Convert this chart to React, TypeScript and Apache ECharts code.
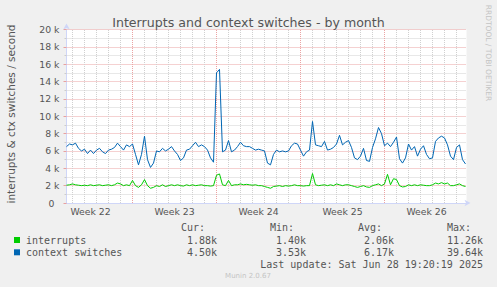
import React, { useEffect, useRef } from "react";
import * as echarts from "echarts";

// x unit = 2 hours (one pixel of the original munin graph); one sample every 6 hours
const SAMPLE_STEP = 3;
const X_MAX = 400;

const interrupts = [
  2.05, 2.1, 2.2, 2.1, 2.05, 2.0, 2.05, 2.0, 2.1, 2.0,
  2.05, 2.1, 2.0, 2.05, 2.1, 2.0, 2.1, 2.3, 2.2, 2.0,
  2.1, 2.0, 2.6, 2.0, 1.8, 2.1, 2.7, 2.0, 1.7, 1.8,
  2.0, 1.9, 2.1, 1.9, 2.0, 2.1, 2.0, 2.1, 2.0, 1.95,
  2.1, 2.0, 2.1, 2.0, 2.05, 2.1, 2.0, 2.0, 1.95, 2.0,
  3.2, 3.35, 2.1, 2.0, 2.6, 2.0, 2.1, 2.1, 2.2, 2.1,
  2.15, 2.1, 2.05, 2.1, 2.0, 2.0, 1.9, 1.8, 1.7, 1.9,
  1.95, 2.0, 1.9, 2.0, 1.95, 2.0, 2.1, 2.0, 2.0, 1.95,
  2.0, 2.0, 3.4, 2.1, 2.0, 2.05, 2.1, 2.0, 2.1, 2.0,
  2.2, 2.1, 2.0, 2.1, 2.1, 2.0, 1.9, 1.8, 1.9, 2.0,
  1.85, 1.8, 2.0, 2.1, 2.2, 2.0, 2.2, 3.3, 2.1, 2.8,
  2.7, 2.0, 1.85, 1.9, 2.1, 2.0, 2.1, 2.0, 2.1, 2.05,
  2.0, 2.0, 2.1, 2.3, 2.2, 2.35, 2.2, 2.3, 2.0, 2.0,
  2.1, 2.2, 2.0, 1.9,
];

const contextSwitches = [
  6.5, 6.8, 6.7, 6.9, 6.3, 6.0, 6.2, 5.7, 6.1, 5.7,
  6.1, 6.3, 5.9, 5.7, 6.1, 6.2, 6.4, 6.9, 6.5, 6.1,
  6.7, 6.5, 6.8, 5.6, 4.4, 5.6, 7.7, 5.0, 4.1, 4.6,
  6.0, 5.9, 6.3, 6.0, 6.2, 6.5, 6.0, 5.6, 4.9, 5.2,
  6.1, 6.2, 6.6, 7.0, 6.5, 6.7, 6.5, 6.1, 5.2, 4.7,
  15.0, 15.4, 5.9, 6.1, 7.2, 5.9, 6.1, 6.5, 7.0, 6.6,
  6.5, 6.5, 6.3, 6.1, 6.2, 6.1, 6.0, 4.6, 4.4, 5.6,
  6.1, 5.9, 6.0, 5.9, 6.0, 6.6, 6.9, 6.8, 6.1, 5.4,
  5.9, 6.1, 9.4, 6.7, 6.6, 6.5, 7.1, 6.1, 6.2, 6.4,
  6.8, 7.8, 6.7, 7.0, 7.2, 6.4, 5.2, 5.0, 5.4, 6.3,
  4.9, 4.8, 6.4, 7.4, 8.7, 8.0, 6.6, 6.9, 6.5, 7.0,
  7.6, 5.1, 4.6, 5.2, 6.8, 6.1, 6.5, 5.4, 6.2, 6.6,
  5.6, 5.1, 5.2, 7.1, 7.5, 7.7, 7.5, 6.7, 5.4, 5.0,
  6.4, 6.7, 5.0, 4.5,
];

const weekLabels = ["Week 22", "Week 23", "Week 24", "Week 25", "Week 26"];
const weekLabelPositions = [24, 108, 192, 276, 360];
const weekBoundaries = [66, 150, 234, 318];
const firstDayLine = 6;
const daySpan = 12;

const yMin = 0;
const yMax = 20;
const yInterval = 2;

const legendNames = ["interrupts", "context switches"];
const legendColors = ["#00CC00", "#0066B3"];
const curValues = ["1.88k", "4.50k"];
const minValues = ["1.40k", "3.53k"];
const avgValues = ["2.06k", "6.17k"];
const maxValues = ["11.26k", "39.64k"];
const lastUpdate = "Last update: Sat Jun 28 19:20:19 2025";

const MONO = '"DejaVu Sans Mono", monospace';
const SANS = '"DejaVu Sans", sans-serif';

export default function App() {
  const ref = useRef<HTMLDivElement>(null);

  useEffect(() => {
    if (!ref.current) return;
    const chart = echarts.init(ref.current, undefined, { renderer: "svg" });

    const dayLines: number[] = [];
    for (let v = firstDayLine; v < X_MAX; v += daySpan) {
      if (!weekBoundaries.includes(v)) dayLines.push(v);
    }

    const toPairs = (arr: number[]) => arr.map((v, i) => [i * SAMPLE_STEP, v]);

    const legendY = [240, 252.3];
    const colX = [217, 306, 394, 483];
    const headerX = [181, 270, 358, 447];
    const headers = ["Cur:", "Min:", "Avg:", "Max:"];
    const cols = [curValues, minValues, avgValues, maxValues];

    const graphics: any[] = [];
    headers.forEach((h, k) => {
      graphics.push({
        type: "text",
        x: headerX[k],
        y: 227.5,
        style: { text: h, fontSize: 10, fontFamily: MONO, fill: "#555", align: "left", verticalAlign: "middle" },
      });
    });
    legendNames.forEach((name, r) => {
      graphics.push({
        type: "rect",
        shape: { x: 14, y: legendY[r] - 3, width: 6, height: 6 },
        style: { fill: legendColors[r] },
      });
      graphics.push({
        type: "text",
        x: 26,
        y: legendY[r],
        style: { text: name, fontSize: 10, fontFamily: MONO, fill: "#555", align: "left", verticalAlign: "middle" },
      });
      cols.forEach((col, k) => {
        graphics.push({
          type: "text",
          x: colX[k],
          y: legendY[r],
          style: { text: col[r], fontSize: 10, fontFamily: MONO, fill: "#555", align: "right", verticalAlign: "middle" },
        });
      });
    });
    graphics.push({
      type: "text",
      x: 483,
      y: 264,
      style: { text: lastUpdate, fontSize: 10, fontFamily: MONO, fill: "#555", align: "right", verticalAlign: "middle" },
    });
    graphics.push({
      type: "text",
      x: 248,
      y: 276,
      style: { text: "Munin 2.0.67", fontSize: 7, fontFamily: SANS, fill: "#C4C4C4", align: "center", verticalAlign: "middle" },
    });
    graphics.push({
      type: "text",
      x: 488,
      y: 53,
      rotation: -Math.PI / 2,
      style: { text: "RRDTOOL / TOBI OETIKER", fontSize: 7.5, fontFamily: SANS, fill: "#C4C4C4", align: "center", verticalAlign: "middle" },
    });
    graphics.push({
      type: "text",
      x: 11,
      y: 114,
      rotation: Math.PI / 2,
      style: { text: "interrupts & ctx switches / second", fontSize: 10.5, fontFamily: SANS, fill: "#555", align: "center", verticalAlign: "middle" },
    });

    const option: any = {
      animation: false,
      backgroundColor: "#F0F0F0",
      title: {
        text: "Interrupts and context switches - by month",
        left: "center",
        top: 11,
        textStyle: { fontSize: 12.6, fontWeight: "normal", color: "#555", fontFamily: SANS },
      },
      grid: {
        left: 66.5,
        right: 30.5,
        top: 29.5,
        bottom: 84,
        show: true,
        backgroundColor: "#FFFFFF",
        borderWidth: 0,
      },
      xAxis: {
        type: "value",
        min: 0,
        max: X_MAX,
        interval: daySpan,
        axisLine: {
          show: true,
          lineStyle: { color: "#CFD6F8", width: 1 },
          symbol: ["none", "arrow"],
          symbolSize: [5, 6],
          symbolOffset: [0, 4],
        },
        axisTick: { show: false },
        splitLine: { show: false },
        axisLabel: {
          margin: 4,
          fontSize: 9.3,
          fontFamily: SANS,
          color: "#555",
          formatter: (v: number) => {
            const idx = weekLabelPositions.indexOf(v);
            return idx >= 0 ? weekLabels[idx] : "";
          },
        },
      },
      yAxis: {
        type: "value",
        min: yMin,
        max: yMax,
        interval: yInterval,
        axisLine: {
          show: true,
          lineStyle: { color: "#CFD6F8", width: 1 },
          symbol: ["none", "arrow"],
          symbolSize: [5, 6],
          symbolOffset: [0, 6],
        },
        axisTick: { show: true, length: 3, lineStyle: { color: "#E8A0A0" } },
        minorTick: { show: true, splitNumber: 2, length: 2, lineStyle: { color: "#CCCCCC" } },
        splitLine: { show: true, lineStyle: { color: "#EBA3A3", type: [1, 1], width: 1 } },
        minorSplitLine: { show: true, lineStyle: { color: "#D0D0D0", type: [1, 1], width: 1 } },
        axisLabel: {
          margin: 7,
          fontSize: 9.3,
          fontFamily: SANS,
          color: "#555",
          formatter: (v: number) => (v === 0 ? "{z|0}" : `${v} k`),
          rich: { z: { padding: [0, 5, 0, 0], fontSize: 9.3, fontFamily: SANS, color: "#555" } },
        },
      },
      series: [
        {
          type: "line",
          name: "day-grid",
          data: [],
          z: 1,
          silent: true,
          markLine: {
            silent: true,
            z: 1,
            symbol: ["none", "none"],
            label: { show: false },
            lineStyle: { color: "#D0D0D0", type: [1, 1], width: 1 },
            data: dayLines.map((v) => ({ xAxis: v })),
          },
        },
        {
          type: "line",
          name: "week-grid",
          data: [],
          z: 1,
          silent: true,
          markLine: {
            silent: true,
            z: 1,
            symbol: ["none", "none"],
            label: { show: false },
            lineStyle: { color: "#EBA3A3", type: [1, 1], width: 1 },
            data: weekBoundaries.map((v) => ({ xAxis: v })),
          },
        },
        {
          type: "line",
          name: legendNames[0],
          data: toPairs(interrupts),
          showSymbol: false,
          z: 3,
          lineStyle: { color: legendColors[0], width: 1 },
          itemStyle: { color: legendColors[0] },
        },
        {
          type: "line",
          name: legendNames[1],
          data: toPairs(contextSwitches),
          showSymbol: false,
          z: 3,
          lineStyle: { color: legendColors[1], width: 1 },
          itemStyle: { color: legendColors[1] },
        },
      ],
      graphic: graphics,
    };

    chart.setOption(option);
    return () => chart.dispose();
  }, []);

  return <div ref={ref} style={{ position: "fixed", left: 0, top: 0, width: 497, height: 287 }} />;
}
